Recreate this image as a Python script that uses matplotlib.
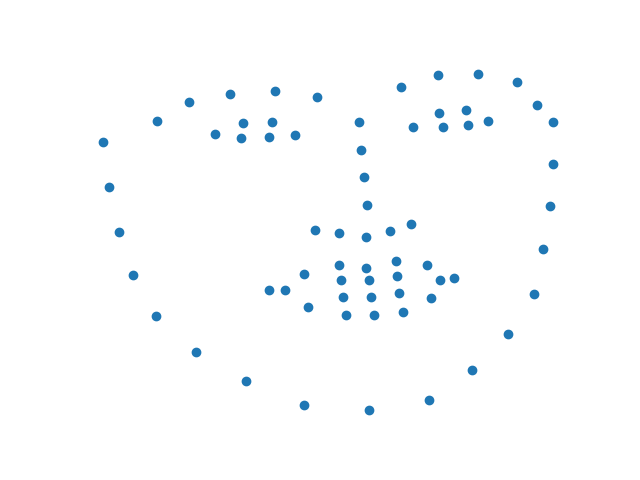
import matplotlib
matplotlib.use("Agg")
import matplotlib.pyplot as plt

# 68 landmark points (image coordinates, y grows downward)
jaw_x = [103, 109, 119, 133, 156, 196, 246, 304, 369, 429, 472, 508, 534, 543, 550, 553, 553]
jaw_y = [142, 187, 232, 275, 316, 352, 381, 405, 410, 400, 370, 334, 294, 249, 206, 164, 122]

brow_x = [157, 189, 230, 275, 317, 401, 438, 478, 517, 537]
brow_y = [121, 102, 94, 91, 97, 87, 75, 74, 82, 105]

nose_x = [359, 361, 364, 367, 315, 339, 366, 390, 411]
nose_y = [122, 150, 177, 205, 230, 233, 237, 231, 224]

eye_x = [215, 243, 272, 295, 269, 241, 413, 439, 466, 488, 468, 443]
eye_y = [134, 123, 122, 135, 137, 138, 127, 113, 110, 121, 125, 127]

mouth_x = [269, 304, 339, 366, 396, 427, 454, 431, 399, 371, 343, 308,
           285, 341, 369, 397, 440, 403, 374, 346]
mouth_y = [290, 274, 265, 268, 261, 265, 278, 298, 293, 297, 297, 307,
           290, 280, 280, 276, 280, 312, 315, 315]

xs = jaw_x + brow_x + nose_x + eye_x + mouth_x
ys = jaw_y + brow_y + nose_y + eye_y + mouth_y

fig, ax = plt.subplots(figsize=(6.4, 4.8), dpi=100)
ax.scatter(xs, ys)
ax.invert_yaxis()
ax.axis("off")

plt.savefig("out.png")
